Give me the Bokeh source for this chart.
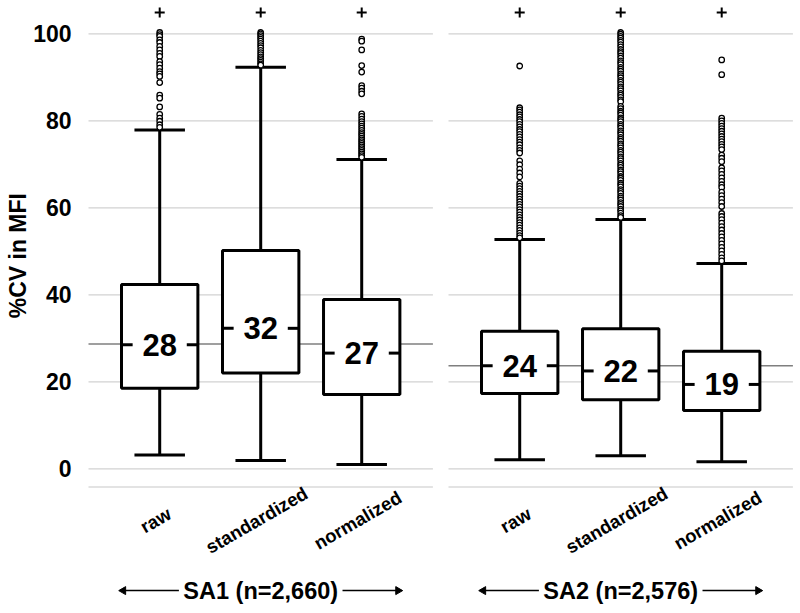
import math
from bokeh.plotting import figure
from bokeh.layouts import row
from bokeh.models import Range1d
from bokeh.embed import file_html
from bokeh.resources import INLINE
from bokeh.core.properties import value

# ---------------- data ----------------
methods = ["raw", "standardized", "normalized"]
groups = ["SA1 (n=2,660)", "SA2 (n=2,576)"]
y_ticks = [0, 20, 40, 60, 80, 100]
y_tick_labels = ["0", "20", "40", "60", "80", "100"]
y_label = "%CV in MFI"

sa1_low = [3.2, 1.9, 1.0]
sa1_q1 = [18.5, 22.0, 17.1]
sa1_median = [28.5, 32.3, 26.6]
sa1_q3 = [42.4, 50.2, 38.9]
sa1_high = [77.9, 92.3, 71.1]
sa1_median_labels = ["28", "32", "27"]
sa1_reference = 28.7

sa2_low = [2.1, 3.0, 1.6]
sa2_q1 = [17.3, 15.9, 13.4]
sa2_median = [23.7, 22.5, 19.4]
sa2_q3 = [31.6, 32.2, 27.0]
sa2_high = [52.7, 57.3, 47.2]
sa2_median_labels = ["24", "22", "19"]
sa2_reference = 23.7

sa1_out_raw = [100.3, 99.8, 99.4, 98.6, 98.0, 97.1, 96.3, 95.5, 94.8, 93.6, 92.9, 92.1,
               91.3, 90.8, 90.2, 88.8, 85.9, 85.2, 83.2, 81.5, 80.6, 79.9, 79.1, 78.5]
sa1_out_std = [100.3, 100.0, 99.6, 99.2, 98.8, 98.3, 97.8, 97.3, 96.8, 96.2, 95.7, 95.2,
               94.7, 94.3, 93.9, 93.5, 93.1, 92.8]
sa1_out_norm = [98.8, 98.3, 96.3, 92.7, 91.2, 88.1, 87.5, 86.8, 86.2, 81.6, 81.0, 80.4,
                79.8, 79.3, 78.8, 78.3, 77.8, 77.3, 76.9, 76.5, 76.0, 75.6, 75.2, 74.8,
                74.4, 74.0, 73.6, 73.2, 72.8, 72.4, 72.0, 71.6]

sa2_out_raw = [92.6, 83.0, 82.5, 82.0, 81.4, 80.9, 80.3, 79.8, 79.2, 78.6, 78.0, 77.5,
               76.9, 76.3, 75.7, 75.1, 74.5, 73.8, 73.2, 72.6, 70.8, 69.9, 68.9, 68.0,
               67.1, 65.6, 65.0, 64.4, 63.8, 63.2, 62.6, 62.0, 61.4, 60.8, 60.2, 59.6,
               59.0, 58.4, 57.8, 57.2, 56.6, 56.0, 55.4, 54.8, 54.2, 53.6, 53.1]
sa2_out_std = [100.3, 99.9, 99.4, 99.0, 98.5, 98.1, 97.5, 97.0, 96.4, 95.9, 95.5, 94.9,
               94.4, 93.8, 93.4, 92.9, 92.3, 91.9, 91.4, 90.8, 90.4, 89.9, 89.3, 88.9,
               88.4, 87.8, 87.4, 86.9, 86.3, 85.9, 85.4, 84.8, 84.4, 83.3, 82.8, 82.2,
               81.8, 81.3, 80.7, 80.3, 79.8, 79.2, 78.8, 78.3, 77.7, 77.3, 76.8, 76.2,
               75.8, 75.3, 74.7, 74.3, 73.8, 73.2, 72.8, 72.3, 71.7, 71.3, 70.8, 70.2,
               69.8, 69.3, 68.7, 68.3, 67.8, 67.2, 66.8, 66.3, 65.7, 65.3, 64.8, 64.2,
               63.8, 63.3, 62.7, 62.3, 61.8, 61.2, 60.8, 60.3, 59.7, 59.3, 58.8, 58.2,
               57.8]
sa2_out_norm = [94.0, 90.6, 80.6, 80.0, 79.4, 78.8, 78.2, 77.6, 77.0, 76.4, 75.8, 75.2,
                74.6, 74.0, 73.4, 72.1, 71.4, 70.6, 69.2, 68.5, 67.7, 66.9, 66.1, 65.3,
                64.7, 63.6, 62.8, 62.0, 61.2, 60.3, 58.7, 58.0, 57.3, 56.5, 55.7, 54.9,
                54.1, 53.3, 52.5, 51.7, 50.9, 50.1, 49.3, 48.5, 47.8]

plus_level = 104.9

# ---------------- styling / layout ----------------
FONT = value("Liberation Sans")
BOX_HALF = 0.378
CAP_HALF = 0.25
MED_TICK = 0.11
LW = 3
PX_PER_X = 101.0          # px per category unit
PX_PER_Y = 4.35           # px per y unit
FIG_H = 610
Y_TOP = 107.66
Y_BOT = Y_TOP - FIG_H / PX_PER_Y
PANEL_X0, PANEL_X1 = 0.295, 3.705
BASE_Y = -4.2


def make_panel(low, q1, med, q3, high, med_labels, ref, outliers, group, first):
    xs = [i + 1 for i in range(len(methods))]
    if first:
        width = 440
        x_start = PANEL_X0 - 88 / PX_PER_X
    else:
        width = 360
        x_start = PANEL_X0 - 8 / PX_PER_X
    x_end = x_start + width / PX_PER_X
    p = figure(width=width, height=FIG_H, output_backend="svg", toolbar_location=None,
               x_range=Range1d(x_start, x_end), y_range=Range1d(Y_BOT, Y_TOP),
               x_axis_location=None, y_axis_location=None, min_border=0)
    p.outline_line_color = None
    p.grid.visible = False
    p.background_fill_color = "white"
    p.border_fill_color = "white"

    # gridlines and base line
    p.segment([PANEL_X0] * len(y_ticks), y_ticks, [PANEL_X1] * len(y_ticks), y_ticks,
              line_color="#d2d2d2", line_width=1.2)
    p.segment([PANEL_X0], [BASE_Y], [PANEL_X1], [BASE_Y],
              line_color="#dadada", line_width=1.5)
    # reference line
    p.segment([PANEL_X0], [ref], [PANEL_X1], [ref], line_color="#7f7f7f", line_width=1.5)

    if first:
        p.text([PANEL_X0 - 17 / PX_PER_X] * len(y_ticks), y_ticks, text=y_tick_labels,
               text_font=FONT, text_font_style="bold", text_font_size="23px",
               text_align="right", text_baseline="middle", text_color="black")
        p.text([PANEL_X0 - 71 / PX_PER_X], [49.0], text=[y_label], angle=math.pi / 2,
               text_font=FONT, text_font_style="bold", text_font_size="23px",
               text_align="center", text_baseline="middle", text_color="black")

    # whiskers
    p.segment(xs, q3, xs, high, line_color="black", line_width=LW)
    p.segment(xs, low, xs, q1, line_color="black", line_width=LW)
    p.segment([x - CAP_HALF for x in xs], high, [x + CAP_HALF for x in xs], high,
              line_color="black", line_width=LW)
    p.segment([x - CAP_HALF for x in xs], low, [x + CAP_HALF for x in xs], low,
              line_color="black", line_width=LW)

    # outliers
    for x, pts in zip(xs, outliers):
        p.scatter([x] * len(pts), pts, marker="circle", size=5.5,
                  fill_color="white", line_color="black", line_width=1.3)

    # boxes
    p.quad(left=[x - BOX_HALF for x in xs], right=[x + BOX_HALF for x in xs],
           bottom=q1, top=q3, fill_color="white", line_color="black", line_width=LW)
    # median ticks
    p.segment([x - BOX_HALF for x in xs], med, [x - BOX_HALF + MED_TICK for x in xs], med,
              line_color="black", line_width=LW)
    p.segment([x + BOX_HALF - MED_TICK for x in xs], med, [x + BOX_HALF for x in xs], med,
              line_color="black", line_width=LW)
    p.text(xs, med, text=med_labels, text_font=FONT, text_font_style="bold",
           text_font_size="31px", text_align="center", text_baseline="middle",
           text_color="black")

    # plus markers at top
    p.scatter(xs, [plus_level] * len(xs), marker="cross", size=10,
              line_color="black", line_width=2)

    # category labels (rotated)
    p.text([x - 0.04 for x in xs], [-11.8] * len(xs), text=methods, angle=math.pi / 6,
           text_font=FONT, text_font_style="bold", text_font_size="18.5px",
           text_align="center", text_baseline="middle", text_color="black")

    # group label with arrows
    gy = -28.0
    p.text([2.0], [gy], text=[group], text_font=FONT, text_font_style="bold",
           text_font_size="23.5px", text_align="center", text_baseline="middle",
           text_color="black")
    p.segment([0.64, 2.81], [gy, gy], [1.19, 3.36], [gy, gy],
              line_color="black", line_width=1.5)
    p.scatter([0.64, 3.36], [gy, gy], marker="triangle", size=8,
              angle=[math.pi / 2, -math.pi / 2],
              fill_color="black", line_color="black", line_width=1)
    return p


p1 = make_panel(sa1_low, sa1_q1, sa1_median, sa1_q3, sa1_high, sa1_median_labels,
                sa1_reference, [sa1_out_raw, sa1_out_std, sa1_out_norm], groups[0], True)
p2 = make_panel(sa2_low, sa2_q1, sa2_median, sa2_q3, sa2_high, sa2_median_labels,
                sa2_reference, [sa2_out_raw, sa2_out_std, sa2_out_norm], groups[1], False)

layout = row(p1, p2)
open("out.html", "w").write(file_html(layout, INLINE))
